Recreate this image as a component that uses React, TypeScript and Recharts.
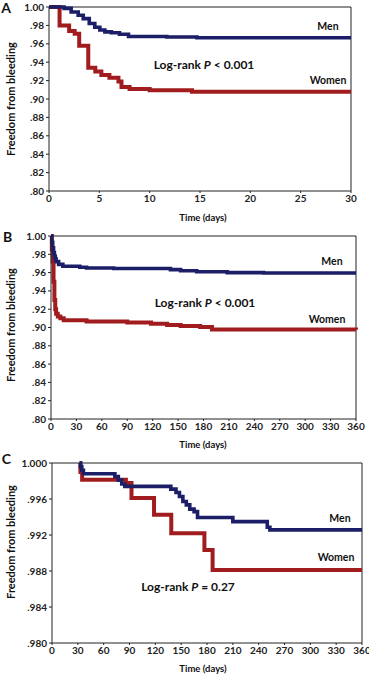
import { LineChart, Line, XAxis, YAxis, ReferenceLine } from 'recharts';
import type { ReactNode } from 'react';

const NAVY = '#1c1e68';
const RED = '#a11c1e';
const INK = '#222';
const FONT = 'Lato, "Open Sans", sans-serif';

type Pt = { t: number; s: number };
const pts = (rows: number[][]): Pt[] => rows.map(([t, s]) => ({ t, s }));

// A: first 30 days
const A_MEN = pts([
  [0, 1.0], [1.5, 0.9985], [2.2, 0.9946], [2.9, 0.991], [3.4, 0.9874], [4.0, 0.982],
  [4.55, 0.978], [5.05, 0.975], [5.55, 0.973], [6.2, 0.972], [7.0, 0.9704], [7.9, 0.968],
  [11.7, 0.9674], [14.7, 0.9665], [30, 0.9665],
]);
const A_WOMEN = pts([
  [0, 1.0], [1.05, 0.98], [2.0, 0.974], [2.55, 0.971], [3.0, 0.958], [3.9, 0.934],
  [4.6, 0.93], [5.2, 0.926], [6.0, 0.923], [6.9, 0.919], [7.2, 0.913], [8.0, 0.911],
  [10.0, 0.9096], [14.2, 0.908], [30, 0.908],
]);

// B: one year
const B_MEN = pts([
  [0, 1.0], [1, 0.993], [2, 0.987], [3, 0.982], [4, 0.978], [5, 0.975], [6, 0.972],
  [9, 0.969], [14, 0.967], [34, 0.9658], [42, 0.965], [74, 0.9644], [141, 0.9633],
  [153, 0.962], [172, 0.961], [208, 0.96], [251, 0.9595], [360, 0.9595],
]);
const B_WOMEN = pts([
  [0, 1.0], [1, 0.985], [2, 0.972], [3, 0.95], [4, 0.93], [5, 0.92], [6, 0.915],
  [8, 0.912], [11, 0.91], [15, 0.908], [42, 0.9065], [90, 0.9055], [118, 0.904],
  [137, 0.9027], [153, 0.9016], [176, 0.9005], [190, 0.8978], [360, 0.8975],
]);

// C: landmark from 30 days
const C_MEN = pts([
  [32, 1.0], [33, 0.9996], [34.6, 0.9992], [36.5, 0.9988], [73, 0.9985], [77, 0.9981],
  [81, 0.99766], [84.6, 0.9974], [138, 0.9971], [144, 0.99673], [148, 0.99628],
  [152, 0.99572], [156, 0.99535], [160, 0.99487], [165, 0.9946], [169, 0.99394],
  [210, 0.99349], [250, 0.99286], [253, 0.99257], [360, 0.99257],
]);
const C_WOMEN = pts([
  [32, 1.0], [33, 0.999], [35, 0.99814], [85.8, 0.99777], [92.3, 0.9961],
  [118.5, 0.99424], [138.5, 0.9922], [177, 0.99033], [186.5, 0.9881], [360, 0.9881],
]);

const X_TICKS_30 = [0, 5, 10, 15, 20, 25, 30];
const X_TICKS_360 = [0, 30, 60, 90, 120, 150, 180, 210, 240, 270, 300, 330, 360];
const Y_TICKS_AB = [0.8, 0.82, 0.84, 0.86, 0.88, 0.9, 0.92, 0.94, 0.96, 0.98, 1.0];
const Y_TICKS_C = [0.98, 0.984, 0.988, 0.992, 0.996, 1.0];

const fmt2 = (v: number) => (v >= 1 ? '1.00' : v.toFixed(2).replace(/^0/, ''));
const fmt3 = (v: number) => (v >= 1 ? '1.000' : v.toFixed(3).replace(/^0/, ''));

const tickStyle = { fontSize: 10, fontWeight: 700, fill: INK, fontFamily: FONT };

interface PanelProps {
  men: Pt[];
  women: Pt[];
  xMax: number;
  xTicks: number[];
  yMin: number;
  yTicks: number[];
  yFmt: (v: number) => string;
  top: number;
  height: number;
  marginTop: number;
  marginRight: number;
  yWidth: number;
  xHeight: number;
}

function Panel(p: PanelProps) {
  return (
    <div style={{ position: 'absolute', left: 0, top: p.top }}>
      <LineChart
        width={369}
        height={p.height}
        margin={{ top: p.marginTop, right: p.marginRight, left: 0, bottom: 0 }}
      >
        <XAxis
          type="number"
          dataKey="t"
          domain={[0, p.xMax]}
          ticks={p.xTicks}
          interval={0}
          height={p.xHeight}
          tick={tickStyle}
          tickSize={2}
          tickLine={{ stroke: INK }}
          axisLine={{ stroke: INK }}
        />
        <YAxis
          type="number"
          domain={[p.yMin, 1]}
          ticks={p.yTicks}
          interval={0}
          tickFormatter={p.yFmt}
          width={p.yWidth}
          tick={tickStyle}
          tickSize={3}
          tickLine={{ stroke: INK }}
          axisLine={{ stroke: INK }}
        />
        <ReferenceLine y={1} stroke={INK} />
        <ReferenceLine x={p.xMax} stroke={INK} />
        <Line
          data={p.women}
          dataKey="s"
          type="stepAfter"
          stroke={RED}
          strokeWidth={4}
          dot={false}
          isAnimationActive={false}
        />
        <Line
          data={p.men}
          dataKey="s"
          type="stepAfter"
          stroke={NAVY}
          strokeWidth={3.6}
          dot={false}
          isAnimationActive={false}
        />
      </LineChart>
    </div>
  );
}

function Txt({ x, y, size, rotate, children }: { x: number; y: number; size: number; rotate?: boolean; children: ReactNode }) {
  return (
    <div
      style={{
        position: 'absolute',
        left: x,
        top: y,
        transform: `translate(-50%, -50%)${rotate ? ' rotate(-90deg)' : ''}`,
        whiteSpace: 'nowrap',
        fontFamily: FONT,
        fontWeight: 700,
        fontSize: size,
        color: '#111',
        lineHeight: 1,
      }}
    >
      {children}
    </div>
  );
}

const LOGRANK_LT = <>Log-rank <i>P</i> &lt; 0.001</>;

export default function App() {
  return (
    <div style={{ position: 'absolute', left: 0, top: 0, width: 369, height: 675, overflow: 'hidden', background: '#fff' }}>
      <Panel men={A_MEN} women={A_WOMEN} xMax={30} xTicks={X_TICKS_30} yMin={0.8} yTicks={Y_TICKS_AB}
        yFmt={fmt2} top={0} height={225} marginTop={7} marginRight={18} yWidth={49} xHeight={34} />
      <Panel men={B_MEN} women={B_WOMEN} xMax={360} xTicks={X_TICKS_360} yMin={0.8} yTicks={Y_TICKS_AB}
        yFmt={fmt2} top={228} height={222} marginTop={8} marginRight={13} yWidth={51} xHeight={31} />
      <Panel men={C_MEN} women={C_WOMEN} xMax={360} xTicks={X_TICKS_360} yMin={0.98} yTicks={Y_TICKS_C}
        yFmt={fmt3} top={455} height={220} marginTop={8} marginRight={7} yWidth={52} xHeight={32} />

      <Txt x={6} y={8} size={14}>A</Txt>
      <Txt x={10} y={99} size={11} rotate>Freedom from bleeding</Txt>
      <Txt x={203} y={218} size={9.5}>Time (days)</Txt>
      <Txt x={328} y={26} size={10.5}>Men</Txt>
      <Txt x={328} y={80} size={10.5}>Women</Txt>
      <Txt x={204} y={65} size={12}>{LOGRANK_LT}</Txt>

      <Txt x={7.5} y={237} size={14}>B</Txt>
      <Txt x={10} y={325} size={11} rotate>Freedom from bleeding</Txt>
      <Txt x={203} y={445} size={9.5}>Time (days)</Txt>
      <Txt x={332} y={261} size={10.5}>Men</Txt>
      <Txt x={327} y={319} size={10.5}>Women</Txt>
      <Txt x={205} y={303} size={12}>{LOGRANK_LT}</Txt>

      <Txt x={6.5} y={458.5} size={14}>C</Txt>
      <Txt x={10} y={542} size={11} rotate>Freedom from bleeding</Txt>
      <Txt x={203} y={669} size={9.5}>Time (days)</Txt>
      <Txt x={340} y={518} size={10.5}>Men</Txt>
      <Txt x={336} y={557} size={10.5}>Women</Txt>
      <Txt x={188} y={587} size={12}>Log-rank <i>P</i> = 0.27</Txt>
    </div>
  );
}
